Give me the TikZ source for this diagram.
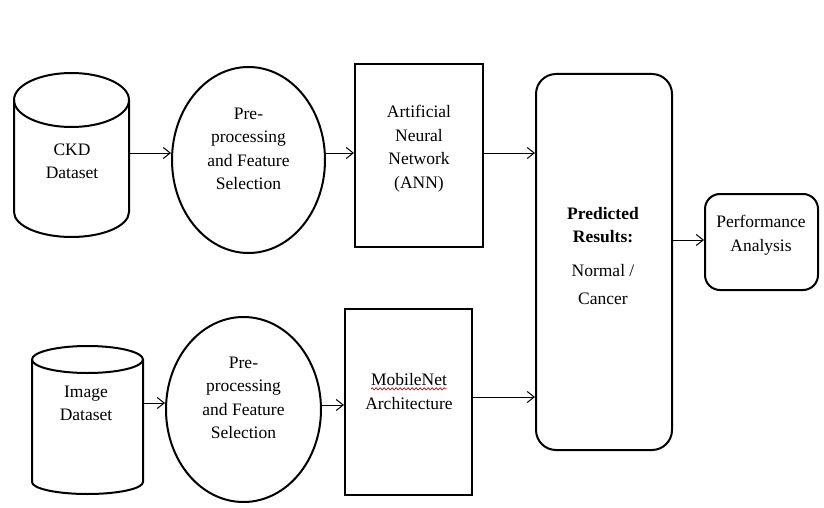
\documentclass[tikz,border=0pt]{standalone}
\usepackage{fontspec}
\setmainfont{Liberation Serif}
\usetikzlibrary{shapes.geometric,arrows.meta,decorations.pathmorphing}
\tikzset{
  shapeline/.style={draw=black, line width=2pt},
  boxnode/.style={shapeline, inner sep=0pt, rectangle},
  txt/.style={align=center, inner sep=0pt, font=\rmfamily\fontsize{17.5}{23.5}\selectfont},
  arr/.style={draw=black, line width=1pt, -{Straight Barb[length=7pt,width=11pt,line width=1pt]}},
  hold/.style={inner sep=0pt, rectangle}
}
\begin{document}
\begin{tikzpicture}[x=1pt,y=-1pt]
\useasboundingbox (0,0) rectangle (824,508);
\fill[white] (0,0) rectangle (824,508);

% CKD cylinder
\node[hold, minimum width=115pt, minimum height=165pt] (ckd) at (71.5,155.5) {};
\draw[shapeline] (71.5,100) ellipse [x radius=57.5pt, y radius=27pt];
\draw[shapeline] (14,100) -- (14,212) arc[start angle=180,end angle=360,x radius=57.5pt,y radius=25pt] -- (129,100);
\node[txt] (ckdt) at (72,161.5) {CKD\\Dataset};

% Image cylinder
\node[hold, minimum width=111pt, minimum height=148pt] (img) at (87.5,420) {};
\draw[shapeline] (87.5,359.5) ellipse [x radius=55.5pt, y radius=13.5pt];
\draw[shapeline] (32,359.5) -- (32,482) arc[start angle=180,end angle=360,x radius=55.5pt,y radius=12pt] -- (143,359.5);
\node[txt] (imgt) at (86,403.5) {Image\\Dataset};

% Pre-processing ellipses
\node[ellipse, shapeline, inner sep=0pt, minimum width=153pt, minimum height=186pt] (pp1) at (248.5,160) {};
\node[txt] (pp1t) at (248.5,149) {Pre-\\processing\\and Feature\\Selection};
\node[ellipse, shapeline, inner sep=0pt, minimum width=155pt, minimum height=185pt] (pp2) at (243.5,409.5) {};
\node[txt] (pp2t) at (243.5,398) {Pre-\\processing\\and Feature\\Selection};

% ANN box
\node[boxnode, minimum width=128pt, minimum height=183pt] (ann) at (419,155.5) {};
\node[txt] (annt) at (419,148.5) {Artificial\\Neural\\Network\\(ANN)};

% MobileNet box
\node[boxnode, minimum width=127pt, minimum height=186pt] (mob) at (408.5,402) {};
\node[txt] (mob1) at (409,380) {MobileNet};
\node[txt] (mob2) at (409,404) {Architecture};
\draw[red!75!black, line width=0.7pt, decorate, decoration={snake, amplitude=1.1pt, segment length=4pt}]
  ([yshift=-2.5pt]mob1.south west) -- ([yshift=-2.5pt]mob1.south east);

% Predicted results
\node[boxnode, rounded corners=20pt, minimum width=136pt, minimum height=376pt] (pred) at (604,262) {};
\node[txt] (predt) at (603,256) {\textbf{Predicted}\\\textbf{Results:}\\[10pt]Normal /\\[5pt]Cancer};

% Performance analysis
\node[boxnode, rounded corners=15pt, minimum width=113pt, minimum height=96pt] (perf) at (761.5,242) {};
\node[txt] (perft) at (761,235) {Performance\\Analysis};

% Connectors
\draw[arr] (ckd.east |- 0,153) -- (pp1.west |- 0,153);
\draw[arr] (pp1.east |- 0,153) -- (ann.west |- 0,153);
\draw[arr] (ann.east |- 0,153) -- (pred.west |- 0,153);
\draw[arr] (img.east |- 0,403) -- (pp2.west |- 0,403);
\draw[arr] (pp2.east |- 0,405) -- (mob.west |- 0,405);
\draw[arr] (mob.east |- 0,397) -- (pred.west |- 0,397);
\draw[arr] (pred.east |- 0,240) -- (perf.west |- 0,240);
\end{tikzpicture}
\end{document}
